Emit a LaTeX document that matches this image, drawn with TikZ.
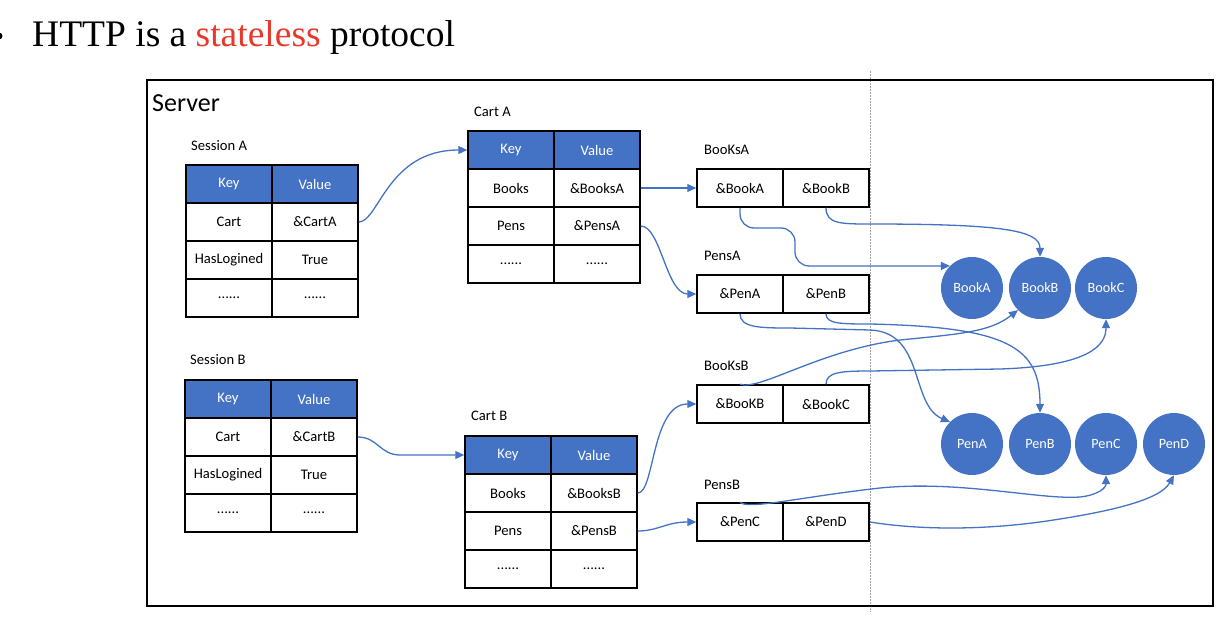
\documentclass[tikz,border=0pt]{standalone}
\usepackage{fontspec}
\setmainfont{Carlito}
\newfontfamily\titlefont{Liberation Serif}
\usetikzlibrary{arrows.meta}
\definecolor{ppblue}{HTML}{4472C4}
\definecolor{ttred}{HTML}{E8382B}
\begin{document}
\begin{tikzpicture}[x=1pt,y=-1pt,
  cell/.style={draw=black,line width=1.5pt,minimum width=86pt,minimum height=38pt,inner sep=0pt,font=\fontsize{14.6}{16}\selectfont},
  hdr/.style={cell,fill=ppblue,text=white},
  lbl/.style={anchor=west,inner sep=0pt,font=\fontsize{14.6}{16}\selectfont},
  obj/.style={circle,fill=ppblue,text=white,minimum size=62pt,inner sep=0pt,font=\fontsize{14.2}{16}\selectfont},
  conn/.style={draw=ppblue,line width=1.3pt,-{Triangle[length=9pt,width=8pt]}}]
\useasboundingbox (0,0) rectangle (1220,618);

% title
\node[circle,fill=black,minimum size=7pt,inner sep=0pt] (bullet) at (-1,36) {};
\node[anchor=base west,inner sep=0pt,font=\titlefont\fontsize{37.5}{40}\selectfont] (title) at (32,47) {HTTP is a \textcolor{ttred}{stateless} protocol};

% server frame and divider
\draw[gray!70,line width=1pt,dash pattern=on 1.5pt off 1.5pt] (870,71) -- (870,612);
\draw[line width=1.8pt] (147,80) rectangle (1213,606);
\node[anchor=west,inner sep=0pt,font=\fontsize{26}{28}\selectfont] (server) at (152,103) {Server};

% Session A
\node[lbl] (sAlbl) at (191,146) {Session A};
\node[hdr]  (sAk0) at (229,184) {Key};
\node[hdr]  (sAv0) at (315,184) {Value};
\node[cell] (sAk1) at (229,222) {Cart};
\node[cell] (sAv1) at (315,222) {\&CartA};
\node[cell] (sAk2) at (229,260) {HasLogined};
\node[cell] (sAv2) at (315,260) {True};
\node[cell] (sAk3) at (229,298) {......};
\node[cell] (sAv3) at (315,298) {......};

% Session B
\node[lbl] (sBlbl) at (190,360) {Session B};
\node[hdr]  (sBk0) at (228,399) {Key};
\node[hdr]  (sBv0) at (314,399) {Value};
\node[cell] (sBk1) at (228,437) {Cart};
\node[cell] (sBv1) at (314,437) {\&CartB};
\node[cell] (sBk2) at (228,475) {HasLogined};
\node[cell] (sBv2) at (314,475) {True};
\node[cell] (sBk3) at (228,513) {......};
\node[cell] (sBv3) at (314,513) {......};

% Cart A
\node[lbl] (cAlbl) at (474,112) {Cart A};
\node[hdr]  (cAk0) at (511,150) {Key};
\node[hdr]  (cAv0) at (597,150) {Value};
\node[cell] (cAk1) at (511,188) {Books};
\node[cell] (cAv1) at (597,188) {\&BooksA};
\node[cell] (cAk2) at (511,226) {Pens};
\node[cell] (cAv2) at (597,226) {\&PensA};
\node[cell] (cAk3) at (511,264) {......};
\node[cell] (cAv3) at (597,264) {......};

% Cart B
\node[lbl] (cBlbl) at (471,416) {Cart B};
\node[hdr]  (cBk0) at (508,455) {Key};
\node[hdr]  (cBv0) at (594,455) {Value};
\node[cell] (cBk1) at (508,493) {Books};
\node[cell] (cBv1) at (594,493) {\&BooksB};
\node[cell] (cBk2) at (508,531) {Pens};
\node[cell] (cBv2) at (594,531) {\&PensB};
\node[cell] (cBk3) at (508,569) {......};
\node[cell] (cBv3) at (594,569) {......};

% arrays
\node[lbl] (bAlbl) at (704,150) {BooKsA};
\node[cell] (bA1) at (740,188) {\&BookA};
\node[cell] (bA2) at (826,188) {\&BookB};
\node[lbl] (pAlbl) at (704,256) {PensA};
\node[cell] (pA1) at (740,294) {\&PenA};
\node[cell] (pA2) at (826,294) {\&PenB};
\node[lbl] (bBlbl) at (704,366) {BooKsB};
\node[cell] (bB1) at (740,404) {\&BooKB};
\node[cell] (bB2) at (826,404) {\&BookC};
\node[lbl] (pBlbl) at (704,485) {PensB};
\node[cell] (pB1) at (740,522) {\&PenC};
\node[cell] (pB2) at (826,522) {\&PenD};

% objects
\node[obj] (BookA) at (972,288) {BookA};
\node[obj] (BookB) at (1040,288) {BookB};
\node[obj] (BookC) at (1106,288) {BookC};
\node[obj] (PenA) at (972,444) {PenA};
\node[obj] (PenB) at (1040,444) {PenB};
\node[obj] (PenC) at (1106,444) {PenC};
\node[obj] (PenD) at (1174,444) {PenD};

% connectors
\draw[conn] (sAv1.east) .. controls +(20,0) and +(-80,0) .. (cAk0.west);
\draw[conn] (sBv1.east) .. controls +(20,0) and +(-20,0) .. (400,455) -- (cBk0.west);
\draw[conn] (cAv1.east) -- (bA1.west);
\draw[conn] (cAv2.east) .. controls +(20,0) and +(-30,0) .. (pA1.west);
\draw[conn] (cBv1.east) .. controls +(17,0) and +(-45,0) .. (bB1.west);
\draw[conn] (cBv2.east) .. controls +(20,0) and +(-30,0) .. (pB1.west);

\draw[conn,rounded corners=14pt] (bA1.south) |- (795,228) |- (BookA.135);
\draw[conn] (bA2.south) .. controls +(0,16) and +(-30,0) .. (870,224) .. controls (1000,224) and (1040,230) .. (BookB.north);
\draw[conn] (pA1.south) .. controls +(0,14) and +(-30,0) .. (790,328) -- (870,330) .. controls (925,332) and (910,405) .. (PenA.135);
\draw[conn] (pA2.south) .. controls +(0,10) and +(-30,0) .. (870,324) .. controls (1010,327) and (1040,348) .. (PenB.north);
\draw[conn] (bB1.north) .. controls (760,391) and (820,350) .. (900,340) .. controls (960,334) and (990,332) .. (BookB.225);
\draw[conn] (bB2.north) .. controls +(0,-12) and +(-30,0) .. (870,371) -- (1000,369) .. controls (1090,366) and (1106,345) .. (BookC.south);
\draw[conn] (pB1.north) .. controls (748,510) and (800,497) .. (880,488) .. controls (960,480) and (1040,500) .. (1080,497) .. controls (1098,495) and (1106,488) .. (PenC.south);
\draw[conn] (pB2.east) .. controls (920,530) and (980,530) .. (1040,522) .. controls (1110,512) and (1160,500) .. (PenD.south);
\end{tikzpicture}
\end{document}
